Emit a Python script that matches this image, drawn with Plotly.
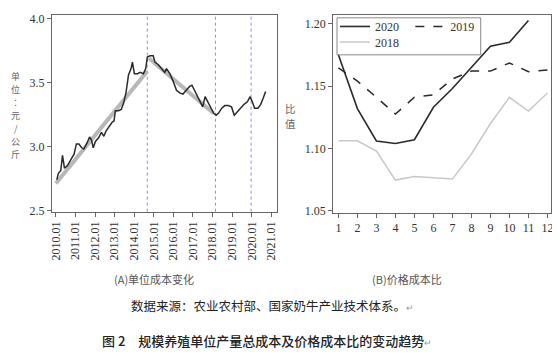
import plotly.graph_objects as go

# ---------------- Panel A data: unit cost (yuan/kg) ----------------
cost_dates = [2010.05, 2010.13, 2010.25, 2010.34, 2010.44, 2010.59, 2010.76, 2010.93,
              2011.05, 2011.18, 2011.32, 2011.43, 2011.60, 2011.72, 2011.82, 2011.91,
              2012.02, 2012.19, 2012.33, 2012.45, 2012.56, 2012.70, 2012.87, 2012.97,
              2013.04, 2013.20, 2013.34, 2013.46, 2013.58, 2013.71, 2013.84, 2013.91,
              2014.01, 2014.18, 2014.30, 2014.47, 2014.59, 2014.67, 2014.81, 2014.97,
              2015.06, 2015.23, 2015.40, 2015.56, 2015.65, 2015.82, 2015.99,
              2016.16, 2016.32, 2016.49, 2016.66, 2016.83, 2016.95,
              2017.08, 2017.25, 2017.39, 2017.50, 2017.62, 2017.76, 2017.89,
              2018.06, 2018.18, 2018.30, 2018.47, 2018.63, 2018.80, 2018.97,
              2019.11, 2019.27, 2019.44, 2019.61, 2019.78, 2019.92,
              2020.03, 2020.15, 2020.32, 2020.46, 2020.59, 2020.71]
cost_values = [2.74, 2.79, 2.81, 2.93, 2.83, 2.85, 2.895, 2.94,
               3.02, 3.02, 2.99, 2.98, 3.03, 3.075, 3.05, 2.99,
               3.04, 3.07, 3.11, 3.08, 3.12, 3.15, 3.19, 3.20,
               3.28, 3.28, 3.29, 3.34, 3.42, 3.56, 3.61, 3.66,
               3.57, 3.57, 3.58, 3.57, 3.61, 3.70, 3.71, 3.71,
               3.66, 3.64, 3.61, 3.58, 3.61, 3.57, 3.51,
               3.44, 3.42, 3.41, 3.44, 3.47, 3.48,
               3.44, 3.39, 3.35, 3.31, 3.39, 3.35, 3.31,
               3.26, 3.245, 3.26, 3.30, 3.32, 3.32, 3.31,
               3.245, 3.275, 3.30, 3.33, 3.35, 3.39,
               3.35, 3.30, 3.30, 3.33, 3.38, 3.43]

trend1_dates = [2010.0, 2014.67]
trend1_values = [2.71, 3.59]
trend2_dates = [2014.75, 2018.05]
trend2_values = [3.69, 3.26]

break_dates = [2014.67, 2018.15, 2019.97]

year_ticks = list(range(2010, 2022))
year_labels = [f"{y}.01" for y in year_ticks]
cost_ticks = [2.5, 3.0, 3.5, 4.0]
cost_tick_labels = ["2.5", "3.0", "3.5", "4.0"]

# ---------------- Panel B data: price / cost ratio ----------------
months = list(range(1, 13))
ratio_2020 = [1.175, 1.132, 1.106, 1.104, 1.107, 1.133, 1.148, 1.165, 1.182, 1.185, 1.2025, None]
ratio_2019 = [1.1646, 1.154, 1.141, 1.1276, 1.141, 1.143, 1.1557, 1.162, 1.162, 1.1685, 1.1615, 1.1628]
ratio_2018 = [1.1062, 1.1062, 1.098, 1.0747, 1.0776, 1.0768, 1.0755, 1.0956, 1.120, 1.141, 1.130, 1.1445]
ratio_ticks = [1.05, 1.10, 1.15, 1.20]
ratio_tick_labels = ["1.05", "1.10", "1.15", "1.20"]

# page has an 8px body margin: figure is drawn 8px right / 8px down
OFF = 8
W, H = 560 - OFF, 356 - OFF
def px(x):
    return (x - OFF) / W
def py(y):
    return 1 - (y - OFF) / H

DARK = "#2a2a2a"
AXIS = "#666666"
TICKFONT = dict(family="Liberation Serif", size=12, color="#333333")

fig = go.Figure()

# Panel A traces
fig.add_trace(go.Scatter(x=trend1_dates, y=trend1_values, mode="lines",
                         line=dict(color="#b8b8b8", width=4), showlegend=False,
                         xaxis="x", yaxis="y"))
fig.add_trace(go.Scatter(x=trend2_dates, y=trend2_values, mode="lines",
                         line=dict(color="#b8b8b8", width=4), showlegend=False,
                         xaxis="x", yaxis="y"))
fig.add_trace(go.Scatter(x=cost_dates, y=cost_values, mode="lines",
                         line=dict(color=DARK, width=1.5), showlegend=False,
                         xaxis="x", yaxis="y"))

# Panel B traces
fig.add_trace(go.Scatter(x=months, y=ratio_2018, mode="lines", name="2018",
                         line=dict(color="#c8c8c8", width=1.5),
                         xaxis="x2", yaxis="y2", legend="legend3"))
fig.add_trace(go.Scatter(x=months, y=ratio_2019, mode="lines", name="2019",
                         line=dict(color=DARK, width=1.5, dash="dash"),
                         xaxis="x2", yaxis="y2", legend="legend2"))
fig.add_trace(go.Scatter(x=months, y=ratio_2020, mode="lines", name="2020",
                         line=dict(color=DARK, width=1.6),
                         xaxis="x2", yaxis="y2", legend="legend"))

# vertical dotted break lines
for d in break_dates:
    fig.add_shape(type="line", xref="x", yref="y domain", x0=d, x1=d, y0=0, y1=1,
                  line=dict(color="#8c8cf0", width=1, dash="dot"), layer="below")

# legend box
fig.add_shape(type="rect", xref="paper", yref="paper",
              x0=px(337), x1=px(482), y0=py(53), y1=py(15),
              line=dict(color="#888888", width=1), fillcolor="rgba(255,255,255,0)")

axis_common = dict(showline=True, linecolor=AXIS, linewidth=1, mirror=True,
                   ticks="outside", ticklen=4, tickcolor=AXIS, tickwidth=1,
                   showgrid=False, zeroline=False, tickfont=TICKFONT)

legend_common = dict(bgcolor="rgba(0,0,0,0)", borderwidth=0,
                     font=dict(family="Liberation Serif", size=12, color="#333333"),
                     xanchor="left", yanchor="top", orientation="h")

fig.update_layout(
    width=W, height=H,
    margin=dict(l=0, r=0, t=0, b=0),
    paper_bgcolor="white", plot_bgcolor="white",
    xaxis=dict(domain=[px(49.3), px(276)], range=[2009.8, 2021.27],
               tickvals=year_ticks, ticktext=year_labels, tickangle=-90, **axis_common),
    yaxis=dict(domain=[py(214), py(12)], range=[2.49, 4.03],
               tickvals=cost_ticks, ticktext=cost_tick_labels, **axis_common),
    xaxis2=dict(domain=[px(333), px(553)], range=[0.72, 12.19], anchor="y2",
                tickvals=months, **axis_common),
    yaxis2=dict(domain=[py(215.3), py(12)], range=[1.0484, 1.207], anchor="x2",
                tickvals=ratio_ticks, ticktext=ratio_tick_labels, **axis_common),
    legend=dict(x=px(335), y=py(9), **legend_common),
    legend2=dict(x=px(411), y=py(9), **legend_common),
    legend3=dict(x=px(335), y=py(25), **legend_common),
)

CJK = "Noto Sans CJK SC"

# vertically stacked axis titles (one upright character per line)
ytitle_a = "单位︰元/公斤"
ytitle_b = "比值"
for i, ch in enumerate(ytitle_a):
    fig.add_annotation(xref="paper", yref="paper", showarrow=False,
                       x=px(13), y=py(115 + (i - 3) * 13.3), text=ch,
                       xanchor="center", yanchor="middle",
                       font=dict(family=CJK, size=9, color="#666666"))
for i, ch in enumerate(ytitle_b):
    fig.add_annotation(xref="paper", yref="paper", showarrow=False,
                       x=px(290), y=py(108 + i * 15.6), text=ch,
                       xanchor="center", yanchor="middle",
                       font=dict(family=CJK, size=10.5, color="#666666"))

annots = [
    dict(text="(A)单位成本变化", x=px(152), y=py(283),
         font=dict(family=CJK, size=11, color="#555555")),
    dict(text="(B)价格成本比", x=px(408), y=py(283),
         font=dict(family=CJK, size=11, color="#555555")),
    dict(text="数据来源：农业农村部、国家奶牛产业技术体系。<span style='font-size:9px;color:#999999'>↵</span>",
         x=px(272), y=py(310), font=dict(family=CJK, size=12.5, color="#222222")),
    dict(text="图 2　规模养殖单位产量总成本及价格成本比的变动趋势<span style='font-size:9px;color:#999999'>↵</span>",
         x=px(266), y=py(346), font=dict(family=CJK, size=13, color="#222222", weight=500)),
]
for a in annots:
    fig.add_annotation(xref="paper", yref="paper", showarrow=False,
                       xanchor="center", yanchor="middle", **a)

fig.write_html("out.html")
